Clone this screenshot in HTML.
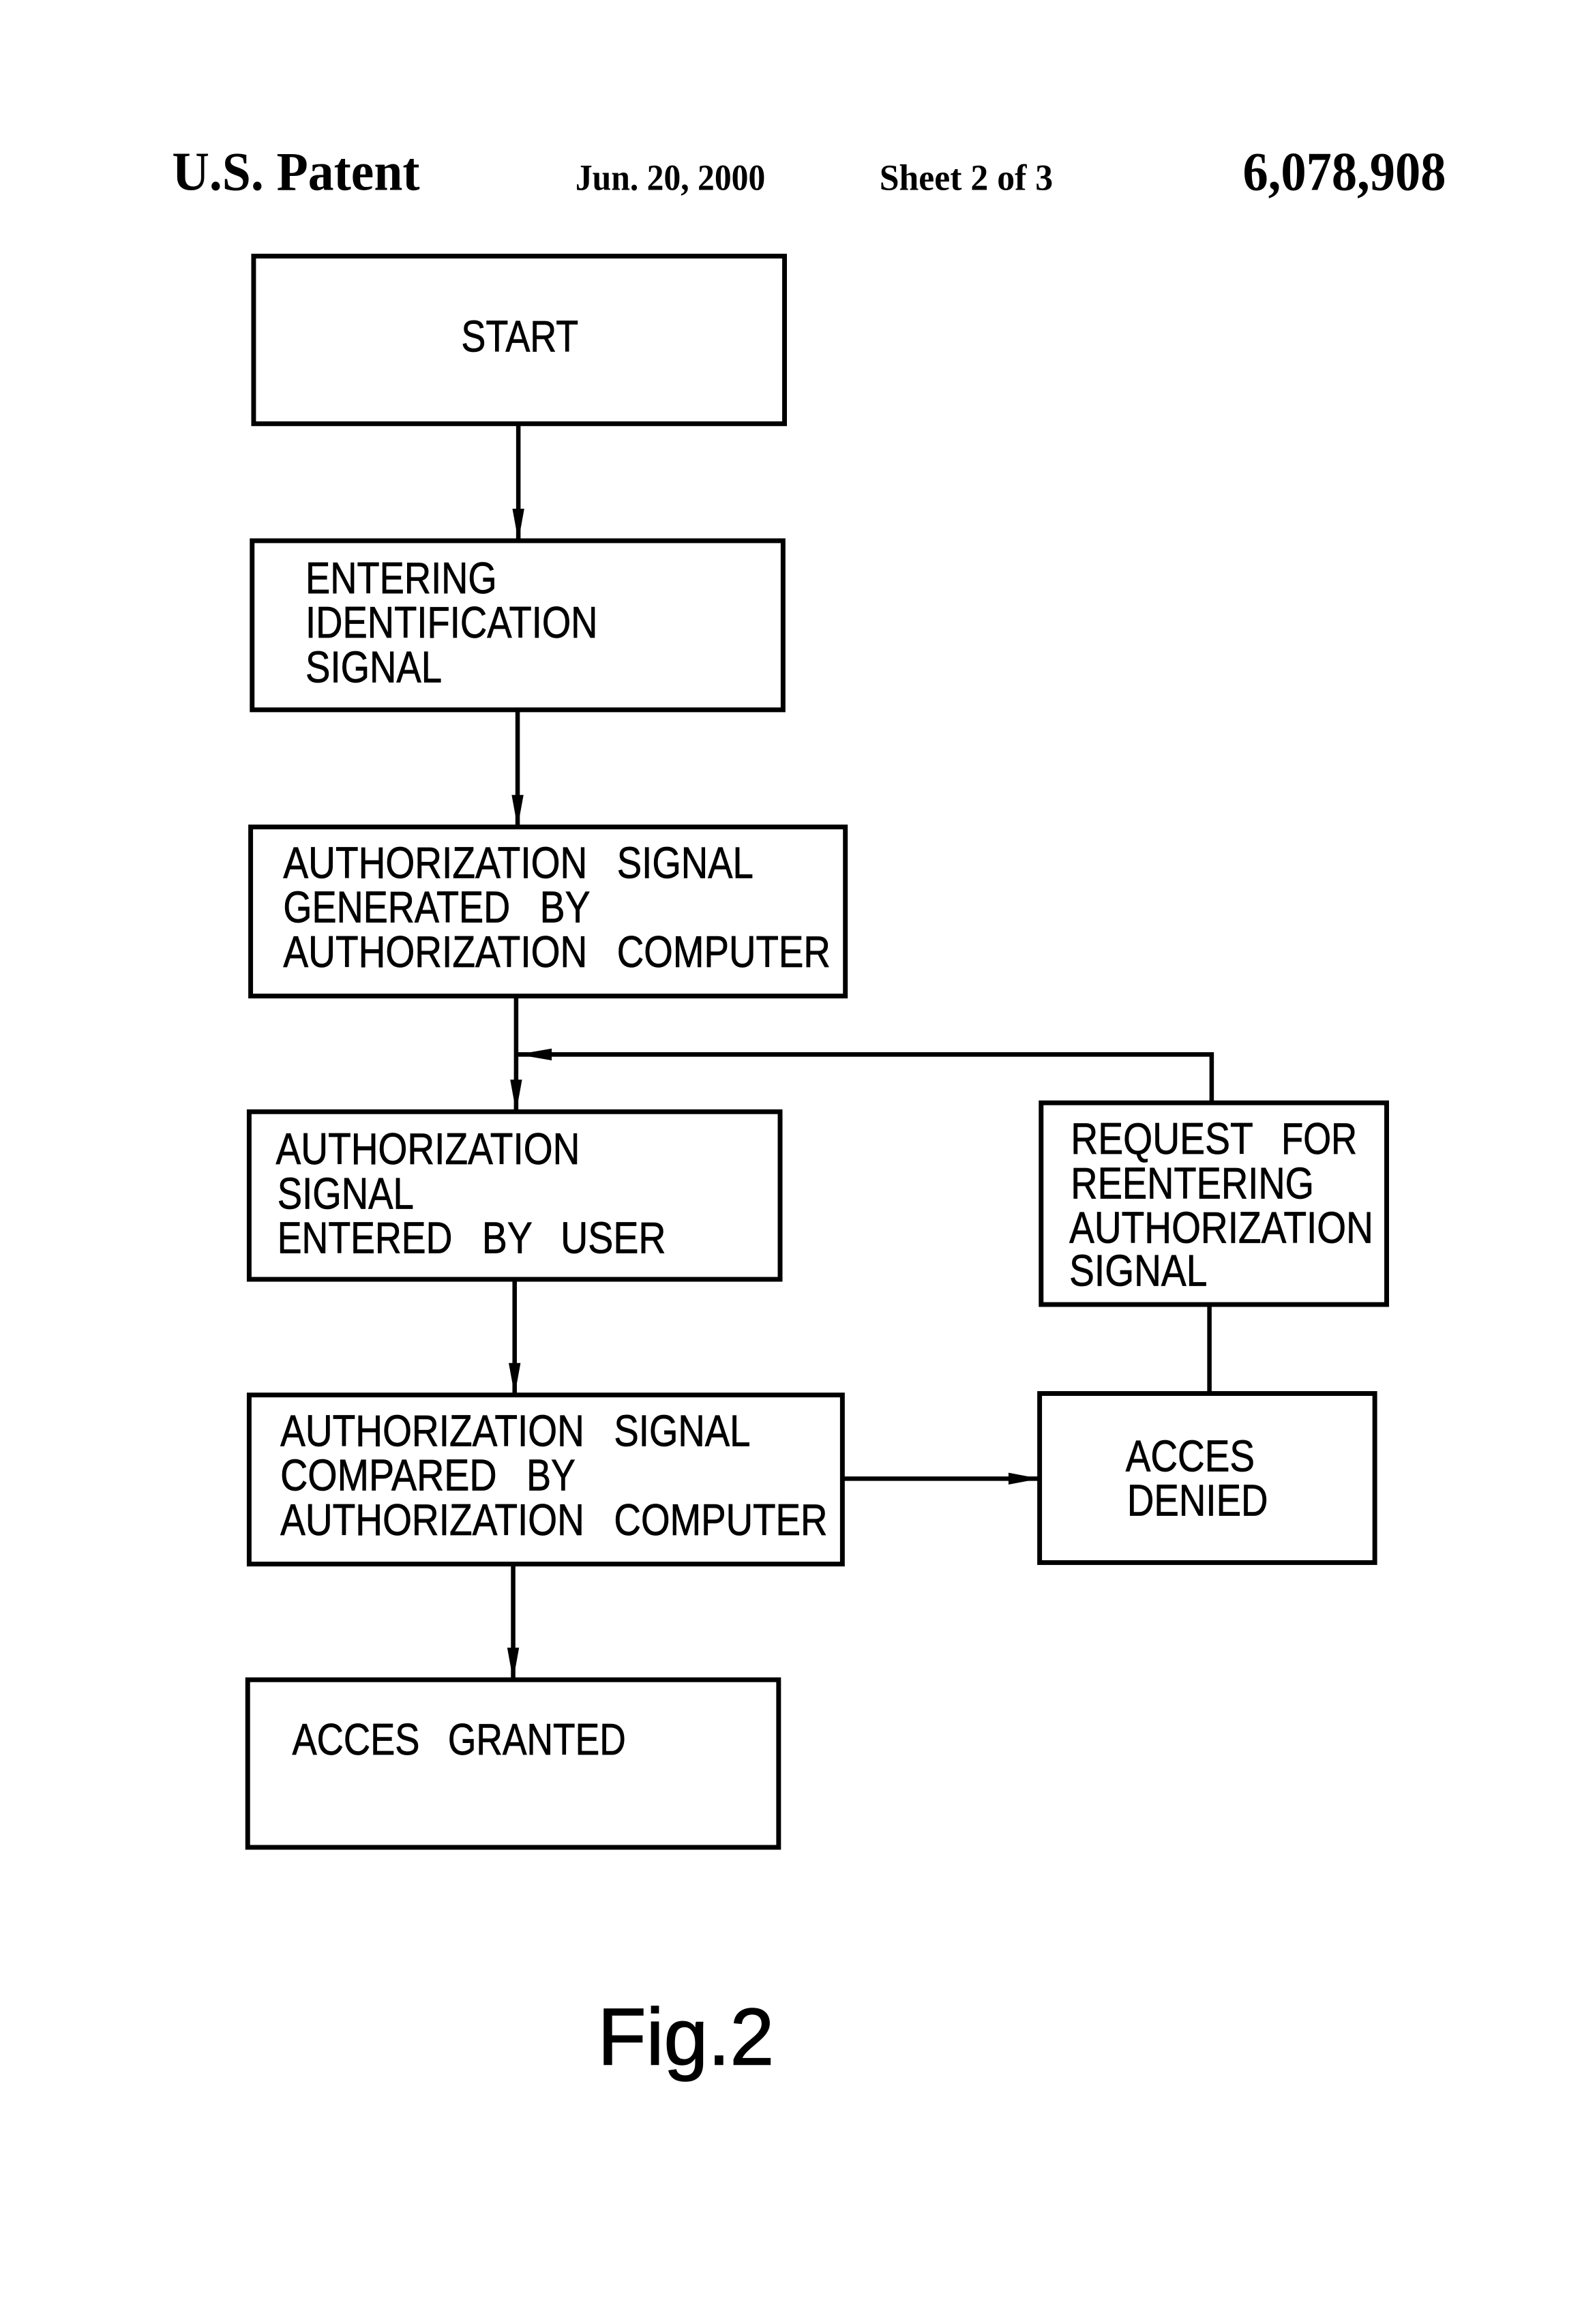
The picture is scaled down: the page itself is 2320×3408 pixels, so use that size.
<!DOCTYPE html>
<html><head><meta charset="utf-8"><title>Fig.2</title>
<style>
html,body{margin:0;padding:0;background:#fff;width:2320px;height:3408px;overflow:hidden}
svg{display:block}
rect{fill:#fff;stroke:#000;stroke-width:3.2}
.l{fill:none;stroke:#000;stroke-width:3}
.a{fill:#000}
.t{font-family:"Liberation Sans",sans-serif;font-size:30px;fill:#000;stroke:#000;stroke-width:.35}
.h{font-family:"Liberation Serif",serif;font-weight:bold;fill:#000}
</style></head><body>
<svg xmlns="http://www.w3.org/2000/svg" width="2320" height="3408" viewBox="0 0 1066.7 1567">
<rect x="0" y="0" width="1066.7" height="1567" style="stroke:none"/>
<text class="h" x="116" y="128" font-size="37" textLength="167" lengthAdjust="spacingAndGlyphs">U.S. Patent</text>
<text class="h" x="388" y="128" font-size="25" textLength="128" lengthAdjust="spacingAndGlyphs">Jun. 20, 2000</text>
<text class="h" x="593" y="128" font-size="25" textLength="117" lengthAdjust="spacingAndGlyphs">Sheet 2 of 3</text>
<text class="h" x="838" y="128" font-size="37" textLength="137" lengthAdjust="spacingAndGlyphs">6,078,908</text>

<path class="l" d="M349.5 286V365M349 480V558M348 672V750M347 863V941M346 1055V1133"/>
<path class="l" d="M817 744V711H348M815.5 880V940M568 997H701"/>
<path class="a" d="M345.5 343h8l-4 22zM345 536h8l-4 22zM344 728h8l-4 22zM343 919h8l-4 22zM342 1111h8l-4 22z"/>
<path class="a" d="M349 711l23-4v8zM701 997l-21-4v8z"/>

<rect x="171" y="172.7" width="358" height="113"/>
<rect x="170" y="364.6" width="358" height="114"/>
<rect x="169" y="557.6" width="401" height="114"/>
<rect x="168" y="749.6" width="358" height="113"/>
<rect x="168" y="940.6" width="400" height="114"/>
<rect x="167" y="1132.6" width="358" height="113"/>
<rect x="702" y="743.6" width="233" height="136"/>
<rect x="701" y="939.6" width="226" height="114"/>

<g class="t" transform="translate(0,-1)">
<text x="311" y="238" textLength="79" lengthAdjust="spacingAndGlyphs">START</text>
<text x="206" y="401" textLength="129" lengthAdjust="spacingAndGlyphs">ENTERING</text>
<text x="206" y="431" textLength="197" lengthAdjust="spacingAndGlyphs">IDENTIFICATION</text>
<text x="206" y="461" textLength="92" lengthAdjust="spacingAndGlyphs">SIGNAL</text>

<text x="191" y="593" textLength="205" lengthAdjust="spacingAndGlyphs">AUTHORIZATION</text>
<text x="416" y="593" textLength="92" lengthAdjust="spacingAndGlyphs">SIGNAL</text>
<text x="191" y="623" textLength="153" lengthAdjust="spacingAndGlyphs">GENERATED</text>
<text x="364" y="623" textLength="34" lengthAdjust="spacingAndGlyphs">BY</text>
<text x="191" y="653" textLength="205" lengthAdjust="spacingAndGlyphs">AUTHORIZATION</text>
<text x="416" y="653" textLength="144" lengthAdjust="spacingAndGlyphs">COMPUTER</text>

<text x="186" y="786" textLength="205" lengthAdjust="spacingAndGlyphs">AUTHORIZATION</text>
<text x="187" y="816" textLength="92" lengthAdjust="spacingAndGlyphs">SIGNAL</text>
<text x="187" y="846" textLength="118" lengthAdjust="spacingAndGlyphs">ENTERED</text>
<text x="325" y="846" textLength="34" lengthAdjust="spacingAndGlyphs">BY</text>
<text x="378" y="846" textLength="71" lengthAdjust="spacingAndGlyphs">USER</text>

<text x="189" y="976" textLength="205" lengthAdjust="spacingAndGlyphs">AUTHORIZATION</text>
<text x="414" y="976" textLength="92" lengthAdjust="spacingAndGlyphs">SIGNAL</text>
<text x="189" y="1006" textLength="146" lengthAdjust="spacingAndGlyphs">COMPARED</text>
<text x="355" y="1006" textLength="33" lengthAdjust="spacingAndGlyphs">BY</text>
<text x="189" y="1036" textLength="205" lengthAdjust="spacingAndGlyphs">AUTHORIZATION</text>
<text x="414" y="1036" textLength="144" lengthAdjust="spacingAndGlyphs">COMPUTER</text>

<text x="197" y="1184" textLength="86" lengthAdjust="spacingAndGlyphs">ACCES</text>
<text x="302" y="1184" textLength="120" lengthAdjust="spacingAndGlyphs">GRANTED</text>

<text x="722" y="779" textLength="123" lengthAdjust="spacingAndGlyphs">REQUEST</text>
<text x="864" y="779" textLength="51" lengthAdjust="spacingAndGlyphs">FOR</text>
<text x="722" y="809" textLength="164" lengthAdjust="spacingAndGlyphs">REENTERING</text>
<text x="721" y="839" textLength="205" lengthAdjust="spacingAndGlyphs">AUTHORIZATION</text>
<text x="721" y="868" textLength="93" lengthAdjust="spacingAndGlyphs">SIGNAL</text>

<text x="759" y="993" textLength="87" lengthAdjust="spacingAndGlyphs">ACCES</text>
<text x="760" y="1023" textLength="95" lengthAdjust="spacingAndGlyphs">DENIED</text>
</g>
<text x="403" y="1392" font-family="'Liberation Sans',sans-serif" font-size="54" fill="#000" stroke="#000" stroke-width=".7" textLength="119" lengthAdjust="spacingAndGlyphs">Fig.2</text>
</svg>
</body></html>
